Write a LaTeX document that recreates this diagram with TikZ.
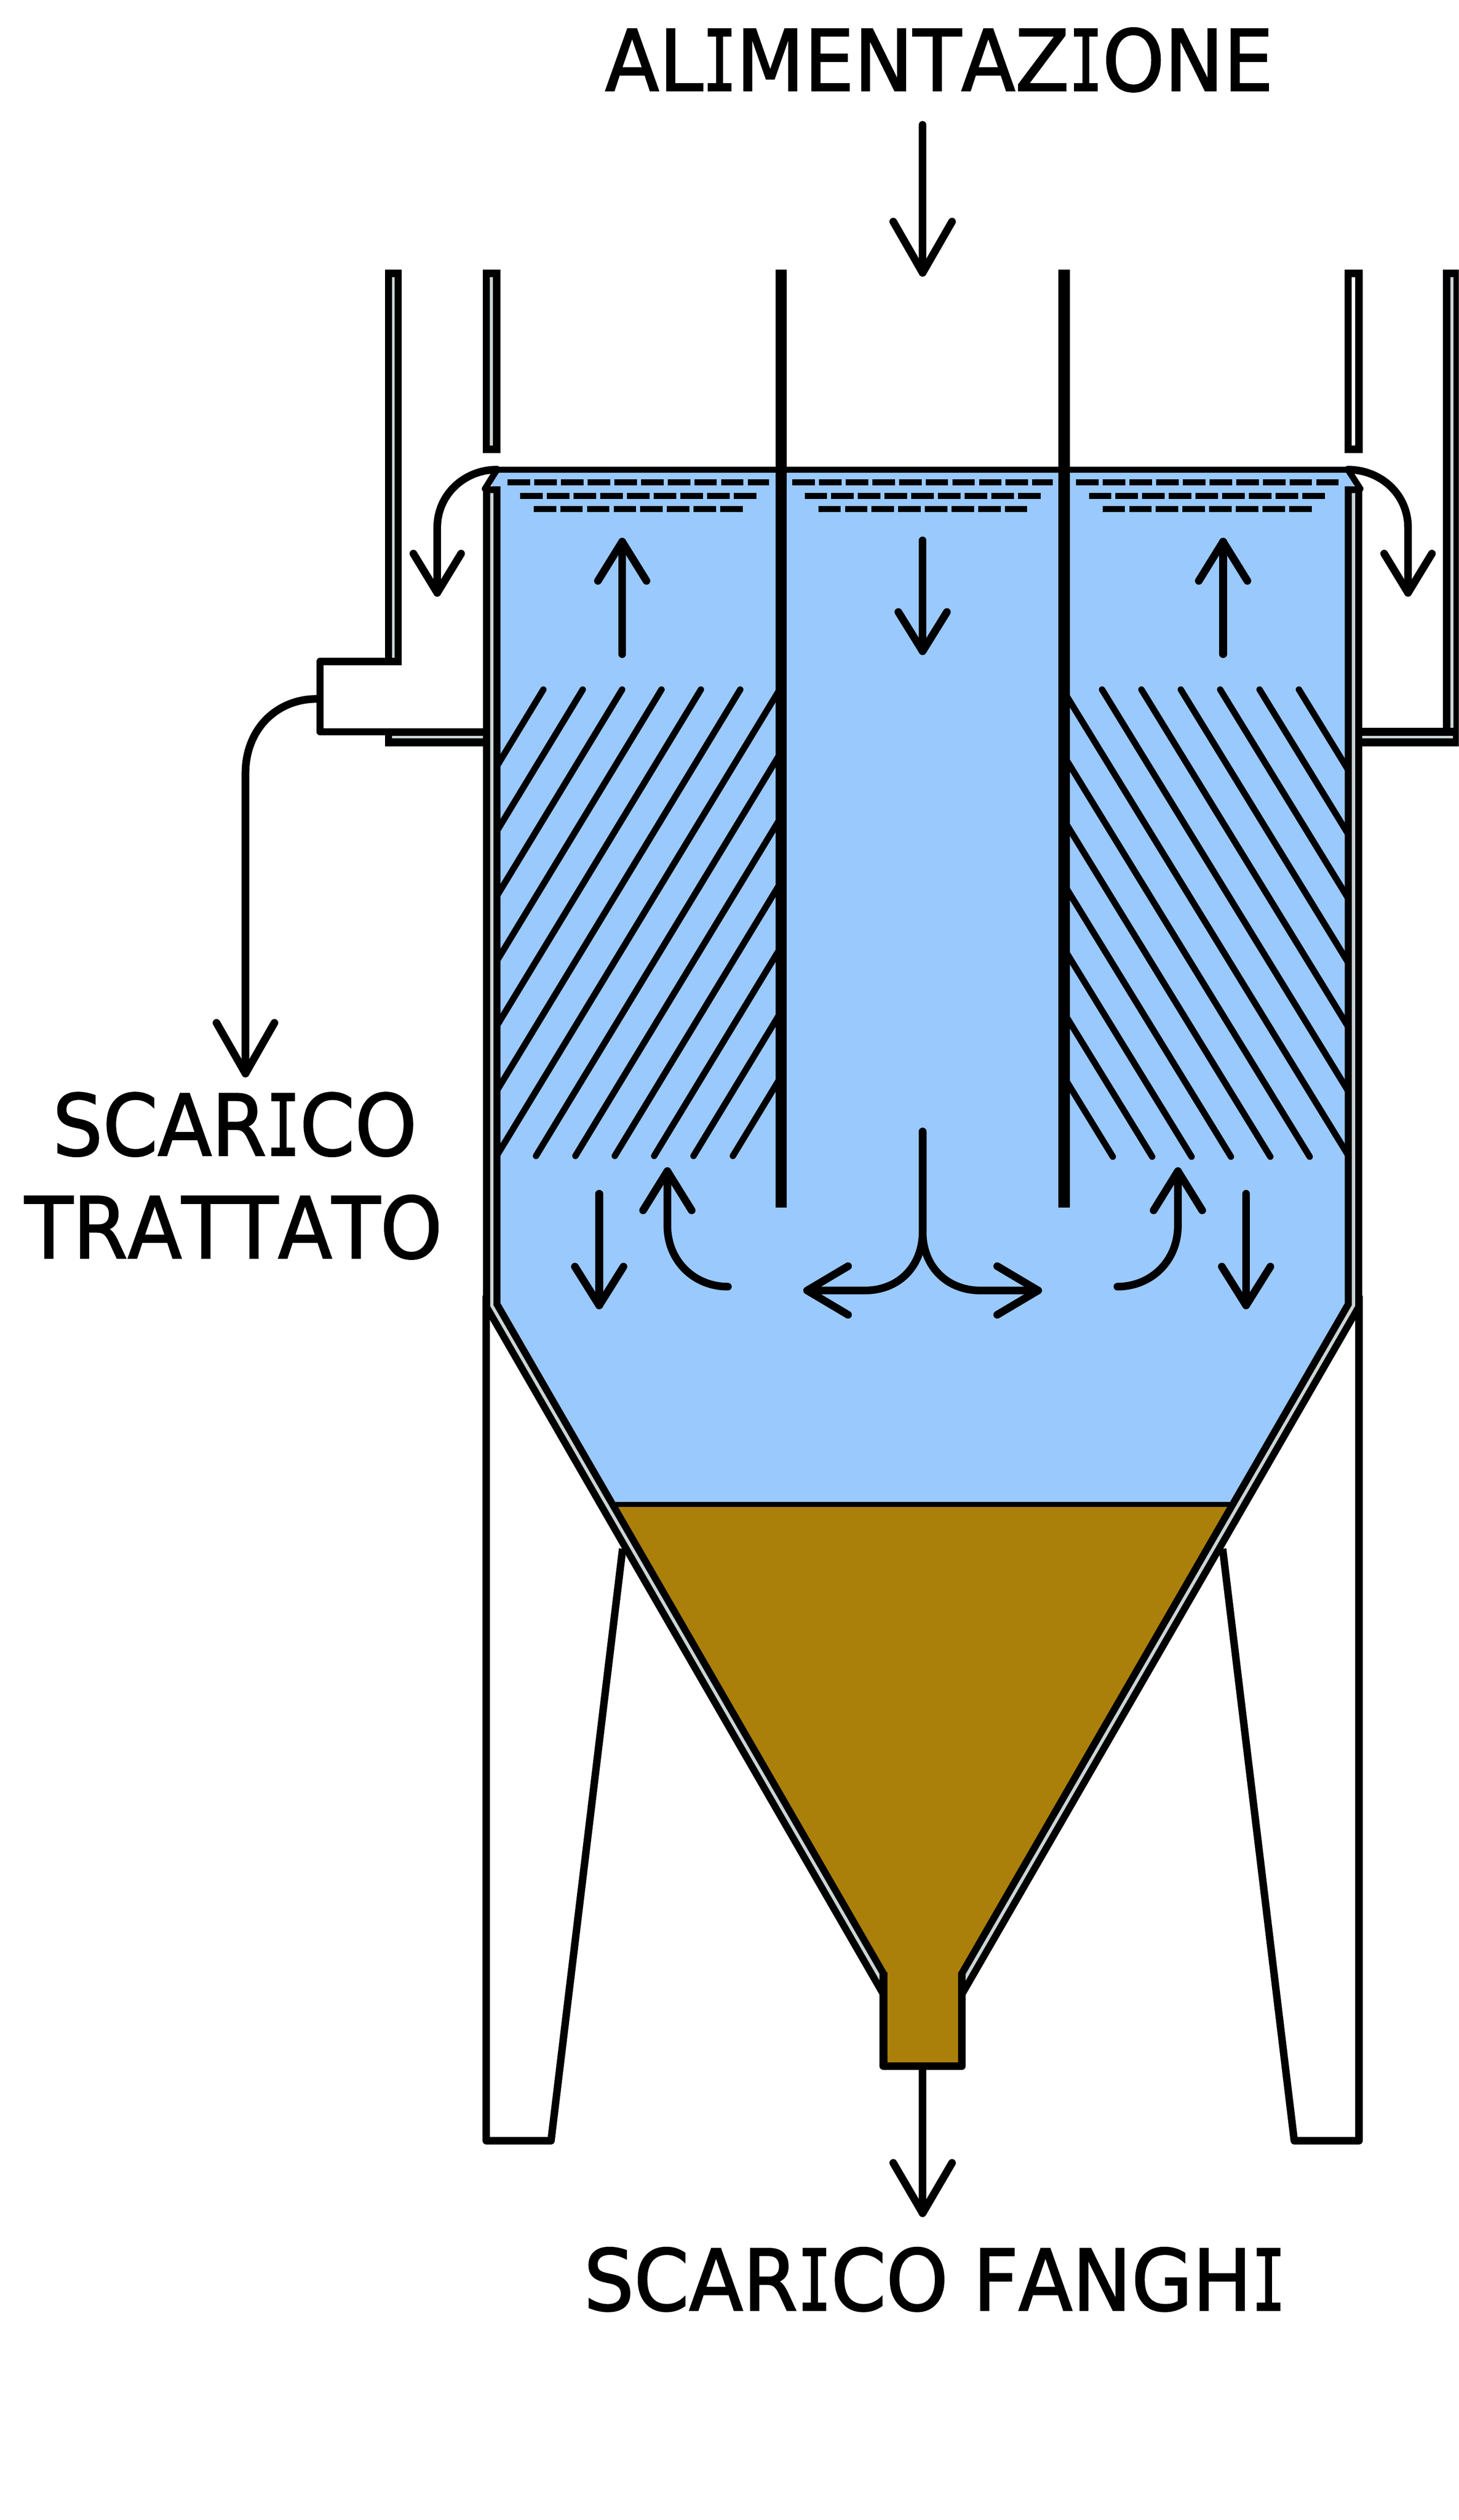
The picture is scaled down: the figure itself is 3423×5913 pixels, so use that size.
\documentclass[tikz,border=0pt]{standalone}
\usepackage{fontspec}
\newfontfamily\labf[FakeStretch=0.93,FakeBold=1.6,Kerning=Off]{DejaVu Sans}
\newfontfamily\labi[FakeStretch=0.65,FakeBold=1.6]{DejaVu Sans Mono}
\newcommand{\slabI}{{\labi I}}
\definecolor{waterc}{HTML}{9AC9FD}
\definecolor{mudc}{HTML}{AA800A}
\definecolor{wallc}{HTML}{CCD5D5}
\newcommand{\headv}[4]{\draw[flow] (#1-#3,#2-#4) -- (#1,#2) -- (#1+#3,#2-#4);}
\newcommand{\headh}[4]{\draw[flow] (#1-#4,#2-#3) -- (#1,#2) -- (#1-#4,#2+#3);}
\tikzset{
  flow/.style={draw=black,line width=3.6pt,line cap=round,line join=round},
  hatchline/.style={draw=black,line width=3pt,line cap=round},
  scumline/.style={draw=black,line width=2.9pt,dash pattern=on 10.6pt off 1.92pt},
  legline/.style={draw=black,line width=3.5pt,line join=round},
  baffle/.style={draw=black,line width=5.4pt},
  label/.style={font=\labf\fontsize{39.8pt}{39.8pt}\selectfont,inner sep=0pt,anchor=base,text=black},
}
\begin{document}
\begin{tikzpicture}[x=0.2pt,y=-0.2pt]
\useasboundingbox (0,0) rectangle (3423,5913);
\clip (0,0) rectangle (3423,5913);
\fill[white] (0,0) rectangle (3423,5913);
% water and sludge
\fill[waterc] (1154,1102) -- (3176,1102) -- (3176,3063.5) -- (2165,4700) -- (1154,3063.5) -- cycle;
\fill[mudc] (1424,3530) -- (2906,3530) -- (2257,4650) -- (2073,4650) -- cycle;
% scum dashes
\foreach \xa/\xb/\yy in {1191/1805/1132,1221/1775/1164,1252/1743/1194,
                         1859/2471/1132,1888/2442/1164,1920/2410/1194,
                         2525/3142/1132,2555/3111/1164,2587/3080/1194}
  \draw[scumline] (\xa,\yy) -- (\xb,\yy);
% lamella hatching
\foreach \k in {0,...,12}{
  \pgfmathsetmacro\xk{1275+92.4*\k}
  \pgfmathsetmacro\xa{min(\xk,1833)}
  \pgfmathsetmacro\ya{1618+1.648*(\xk-\xa)}
  \pgfmathsetmacro\xb{max(\xk-664,1160)}
  \pgfmathsetmacro\yb{1618+1.648*(\xk-\xb)}
  \draw[hatchline] (\xa,\ya) -- (\xb,\yb);
  \pgfmathsetmacro\xk{3048-92.4*\k}
  \pgfmathsetmacro\xa{max(\xk,2497)}
  \pgfmathsetmacro\ya{1618+1.631*(\xa-\xk)}
  \pgfmathsetmacro\xb{min(\xk+672,3170)}
  \pgfmathsetmacro\yb{1618+1.631*(\xb-\xk)}
  \draw[hatchline] (\xa,\ya) -- (\xb,\yb);
}
% sludge level, water level
\draw[draw=black,line width=2.4pt] (1424,3530) -- (2906,3530);
\draw[draw=black,line width=3pt] (1166,1102) -- (3163,1102);
% baffles
\draw[baffle] (1833,633) -- (1833,2833);
\draw[baffle] (2497,633) -- (2497,2833);
% legs
\draw[legline] (1141,3040) -- (1141,5023) -- (1293,5023) -- (1461,3634);
\draw[legline] (3189,3040) -- (3189,5023) -- (3037,5023) -- (2869,3634);
% launder, left
\fill[black] (903,1708) rectangle (1140,1751);
\fill[wallc] (920,1726) rectangle (1140,1733);
\fill[black] (903,633) rectangle (943,1560);
\fill[wallc] (920,650) rectangle (926,1544);
\fill[white] (751,1552) rectangle (1140,1717);
\draw[draw=black,line width=3.4pt,line join=round] (943,1552) -- (751,1552) -- (751,1717) -- (1140,1717);
% launder, right
\fill[black] (3190,1708) rectangle (3423,1751);
\fill[wallc] (3190,1726) rectangle (3409,1733);
\fill[black] (3386,633) rectangle (3423,1708);
\fill[wallc] (3403,650) rectangle (3411,1708);
% weir walls, upper part
\fill[black] (1133,633) rectangle (1174,1063);
\fill[wallc] (1150,650) rectangle (1157,1046);
\fill[black] (3155,633) rectangle (3198,1063);
\fill[white] (3172,650) rectangle (3180,1046);
% tank wall
\draw[draw=black,line width=8.2pt,miter limit=10] (1154,1141) -- (1154,3063.5) -- (2100,4702) -- (2230,4702) -- (3176,3063.5) -- (3176,1141);
\draw[draw=wallc,line width=1.5pt,miter limit=10] (1154,1157) -- (1154,3063.5) -- (2100,4702) -- (2230,4702) -- (3176,3063.5) -- (3176,1157);
% sludge outlet
\fill[mudc] (2073,4627) rectangle (2257,4848);
\draw[draw=black,line width=3.6pt,line join=round] (2073,4627) -- (2073,4848) -- (2257,4848) -- (2257,4627);
% overflow lips
\draw[draw=black,line width=3pt,line cap=round] (1166,1102) -- (1138,1147);
\draw[draw=black,line width=3pt,line cap=round] (3163,1102) -- (3192,1147);
% arrows: overflow
\draw[flow] (1166,1102) .. controls (1090,1102) and (1026,1160) .. (1026,1238) -- (1026,1391);
\headv{1026}{1391}{56}{92}
\draw[flow] (3163,1102) .. controls (3240,1102) and (3304,1160) .. (3304,1238) -- (3304,1391);
\headv{3304}{1391}{56}{92}
% feed
\draw[flow] (2165,293) -- (2165,640);
\headv{2165}{640}{69}{120}
% compartment arrows
\draw[flow] (1460,1271) -- (1460,1535);
\headv{1460}{1271}{57}{-92}
\draw[flow] (2165,1268) -- (2165,1528);
\headv{2165}{1528}{57}{92}
\draw[flow] (2870,1271) -- (2870,1535);
\headv{2870}{1271}{57}{-92}
% lower arrows
\draw[flow] (1406,2801) -- (1406,3063);
\headv{1406}{3063}{57}{91}
\draw[flow] (2924,2801) -- (2924,3063);
\headv{2924}{3063}{57}{91}
\draw[flow] (1708,3019) .. controls (1630,3019) and (1566,2960) .. (1566,2875) -- (1566,2748);
\headv{1566}{2748}{57}{-92}
\draw[flow] (2622,3019) .. controls (2700,3019) and (2764,2960) .. (2764,2875) -- (2764,2748);
\headv{2764}{2748}{57}{-92}
\draw[flow] (2165,2655) -- (2165,2890) .. controls (2165,2970) and (2110,3028) .. (2029,3028) -- (1894,3028);
\headh{1894}{3028}{57}{-96}
\draw[flow] (2165,2655) -- (2165,2890) .. controls (2165,2970) and (2220,3028) .. (2301,3028) -- (2436,3028);
\headh{2436}{3028}{57}{96}
% treated effluent
\draw[flow] (743,1640) .. controls (650,1640) and (576,1710) .. (576,1815) -- (576,2519);
\headv{576}{2519}{68}{119}
% sludge discharge
\draw[flow] (2165,4857) -- (2165,5193);
\headv{2165}{5193}{69}{118}
% labels
\node[label] (feedlab) at (2204,213) {AL\slabI MENTAZ\slabI ONE};
\node[label] (efflab1) at (551,2711) {SCAR\slabI CO};
\node[label] (efflab2) at (548,2952) {TRATTATO};
\node[label] (sludgelab) at (2193,5421) {SCAR\slabI CO FANGH\slabI};
\end{tikzpicture}
\end{document}
